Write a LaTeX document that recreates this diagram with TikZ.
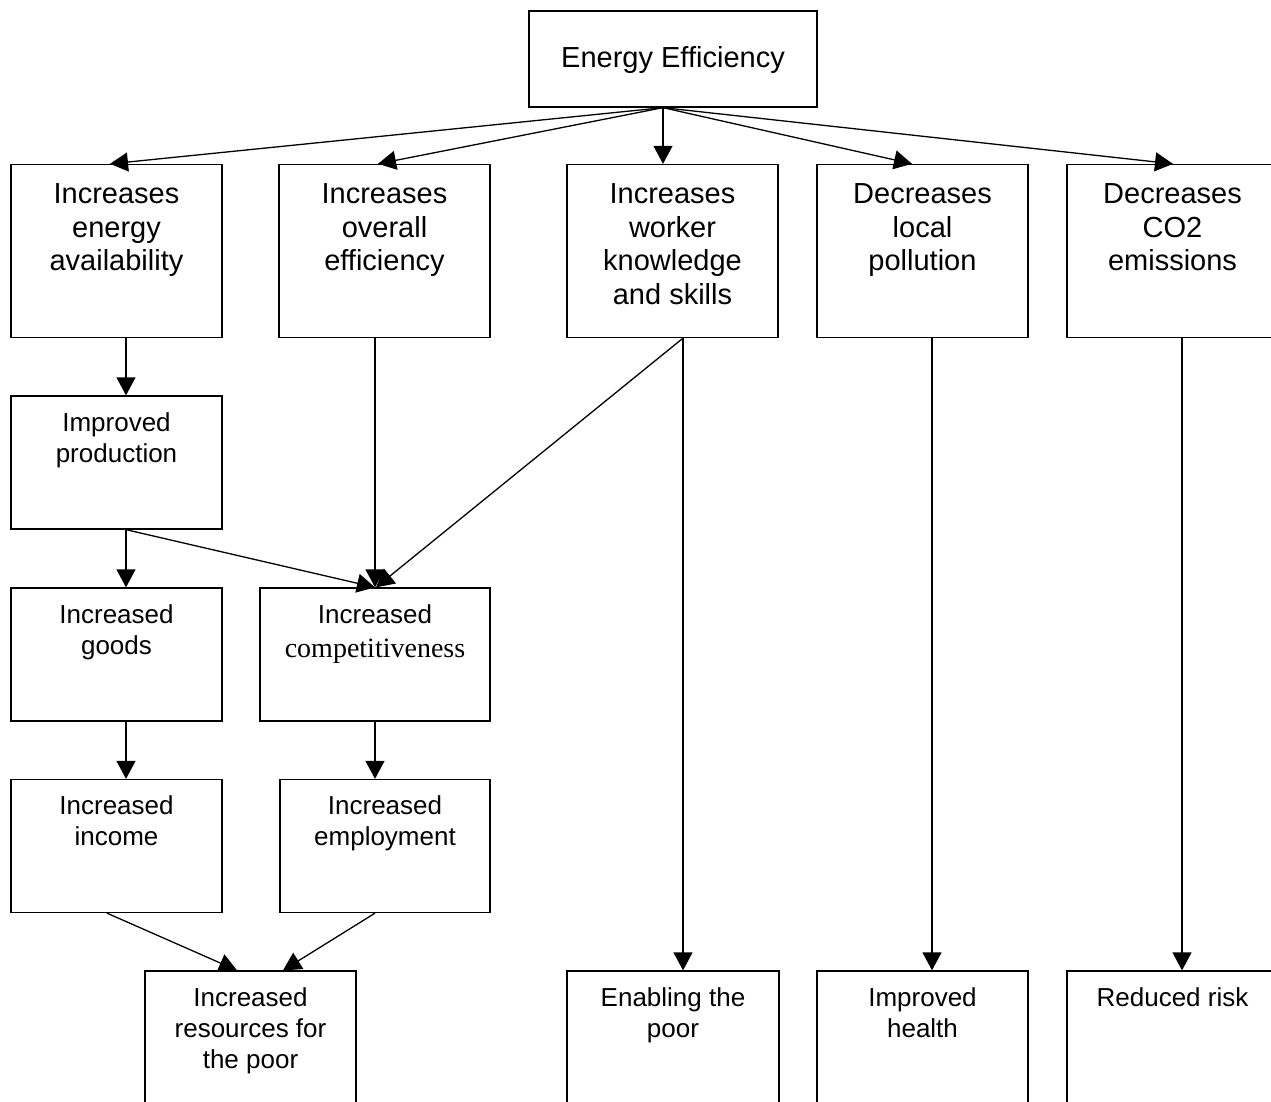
\documentclass[tikz,border=0pt]{standalone}
\usepackage{fontspec}
\setmainfont{Liberation Sans}
\newfontfamily\timesf{Liberation Serif}
\usetikzlibrary{arrows.meta}
\tikzset{
  box/.style={draw, line width=1.3pt, inner sep=0pt, minimum width=211pt, minimum height=173pt},
  lowbox/.style={box, minimum height=133pt},
  bigtxt/.style={inner sep=0pt, align=center, anchor=north, font=\fontsize{29}{33.7}\selectfont},
  smalltxt/.style={inner sep=0pt, align=center, anchor=north, font=\fontsize{26}{31}\selectfont},
  conn/.style={line width=1.3pt, -{Triangle[length=18pt,width=19pt]}},
}
\begin{document}
\begin{tikzpicture}[x=1pt,y=-1pt]
\useasboundingbox (0,0) rectangle (1271,1102);
\clip (0,0) rectangle (1271,1102);
% top
\node[box, minimum width=288pt, minimum height=96pt] (ee) at (673,59) {};
\node[inner sep=0pt, anchor=base, font=\fontsize{29}{33.7}\selectfont] (eet) at (673,67.5) {Energy Efficiency};
% row 1
\node[box] (b1) at (116.5,251) {};
\node[box] (b2) at (384.5,251) {};
\node[box] (b3) at (672.5,251) {};
\node[box] (b4) at (922.5,251) {};
\node[box] (b5) at (1172.5,251) {};
\node[bigtxt] (b1t) at ([yshift=-19.5pt]b1.north) {Increases\\energy\\availability};
\node[bigtxt] (b2t) at ([yshift=-19.5pt]b2.north) {Increases\\overall\\efficiency};
\node[bigtxt] (b3t) at ([yshift=-19.5pt]b3.north) {Increases\\worker\\knowledge\\and skills};
\node[bigtxt] (b4t) at ([yshift=-19.5pt]b4.north) {Decreases\\local\\pollution};
\node[bigtxt] (b5t) at ([yshift=-19.5pt]b5.north) {Decreases\\CO2\\emissions};
% lower left
\node[lowbox] (ip) at (116.5,462.5) {};
\node[lowbox] (goods) at (116.5,654.5) {};
\node[lowbox, minimum width=230pt] (comp) at (375,654.5) {};
\node[lowbox] (income) at (116.5,846) {};
\node[lowbox, minimum width=210pt] (employ) at (385,846) {};
\node[smalltxt] (ipt) at ([yshift=-17pt]ip.north) {Improved\\production};
\node[smalltxt] (goodst) at ([yshift=-17pt]goods.north) {Increased\\goods};
\node[smalltxt] (compt) at ([yshift=-17pt]comp.north) {Increased\\[3.5pt]{\timesf\fontsize{28}{31}\selectfont competitiveness}};
\node[smalltxt] (incomet) at ([yshift=-17pt]income.north) {Increased\\income};
\node[smalltxt] (employt) at ([yshift=-17pt]employ.north) {Increased\\employment};
% bottom row
\node[box] (res) at (250.5,1057.5) {};
\node[box, minimum width=212pt] (enab) at (673,1057.5) {};
\node[box] (health) at (922.5,1057.5) {};
\node[box] (risk) at (1172.5,1057.5) {};
\node[smalltxt] (rest) at ([yshift=-17pt]res.north) {Increased\\resources for\\the poor};
\node[smalltxt] (enabt) at ([yshift=-17pt]enab.north) {Enabling the\\poor};
\node[smalltxt] (healtht) at ([yshift=-17pt]health.north) {Improved\\health};
\node[smalltxt] (riskt) at ([yshift=-17pt]risk.north) {Reduced risk};
% connectors
\coordinate (apex) at ([xshift=-10pt]ee.south);
\draw[conn] (apex) -- ([xshift=-6.5pt]b1.north);
\draw[conn] (apex) -- ([xshift=-6.5pt]b2.north);
\draw[conn] (apex) -- ([xshift=-9.5pt]b3.north);
\draw[conn] (apex) -- ([xshift=-10.5pt]b4.north);
\draw[conn] (apex) -- ([xshift=0.5pt]b5.north);
\draw[conn] ([xshift=9.5pt]b1.south) -- ([xshift=9.5pt]ip.north);
\draw[conn] ([xshift=-9.5pt]b2.south) -- (comp.north);
\draw[conn] ([xshift=10.5pt]b3.south) -- ([xshift=1pt]comp.north);
\draw[conn] ([xshift=10.5pt]b3.south) -- ([xshift=10pt]enab.north);
\draw[conn] ([xshift=9.5pt]ip.south) -- ([xshift=9.5pt]goods.north);
\draw[conn] ([xshift=9.5pt]ip.south) -- (comp.north);
\draw[conn] ([xshift=9.5pt]goods.south) -- ([xshift=9.5pt]income.north);
\draw[conn] (comp.south) -- ([xshift=-10pt]employ.north);
\draw[conn] ([xshift=-9.5pt]income.south) -- ([xshift=-13.5pt]res.north);
\draw[conn] ([xshift=-10pt]employ.south) -- ([xshift=32.5pt]res.north);
\draw[conn] ([xshift=9.5pt]b4.south) -- ([xshift=9.5pt]health.north);
\draw[conn] ([xshift=9.5pt]b5.south) -- ([xshift=9.5pt]risk.north);
\end{tikzpicture}
\end{document}
